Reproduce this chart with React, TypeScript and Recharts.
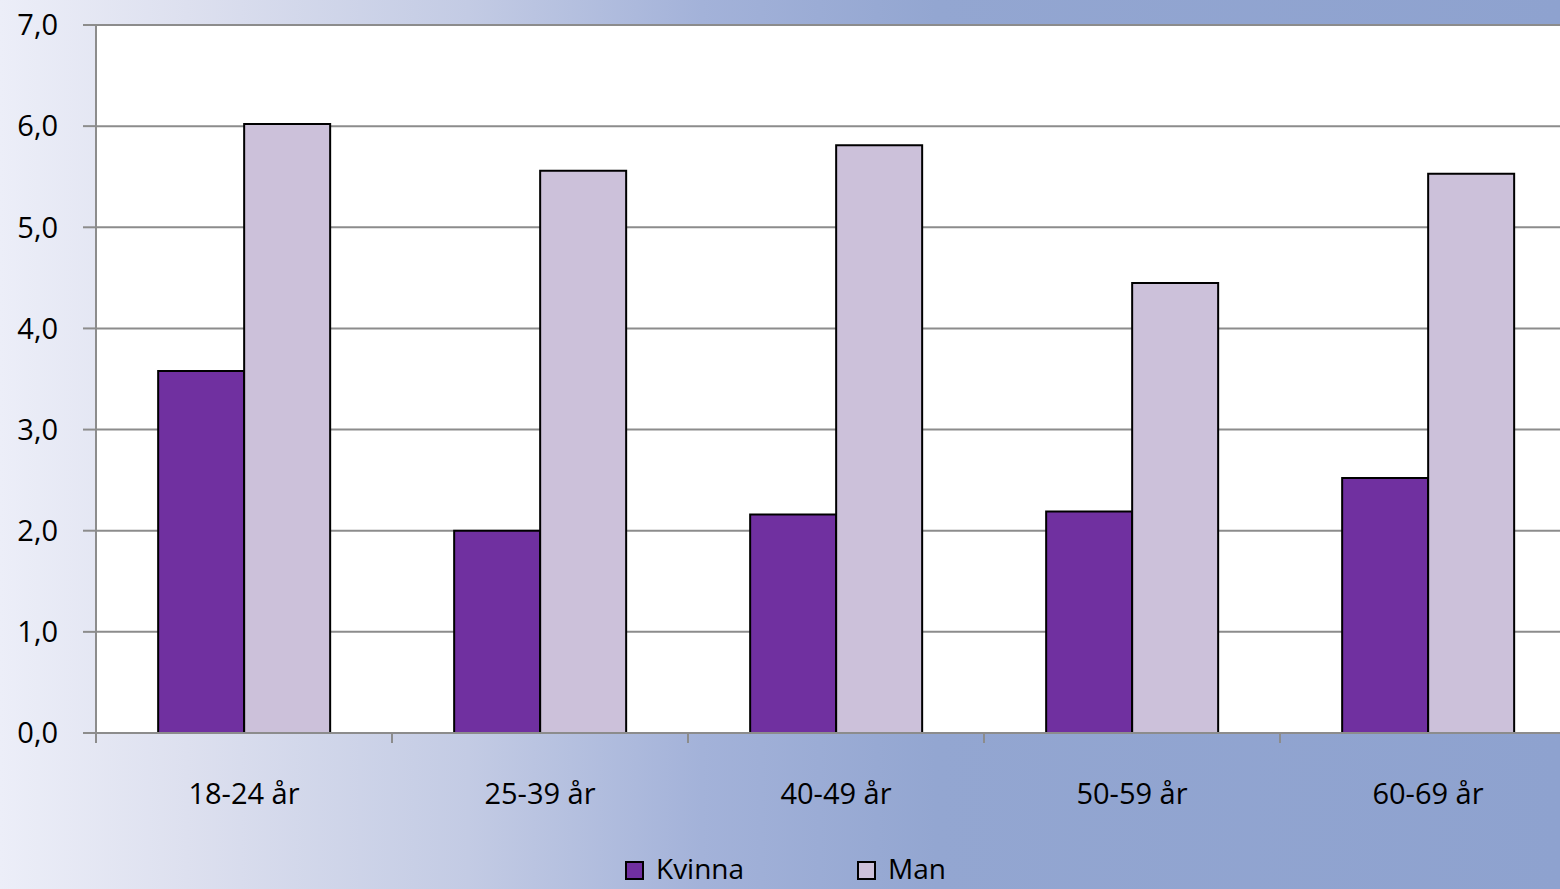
import { BarChart, Bar, XAxis, YAxis, CartesianGrid, Legend } from "recharts";

const ageGroups = ["18-24 år", "25-39 år", "40-49 år", "50-59 år", "60-69 år"];
const kvinna = [3.58, 2.0, 2.16, 2.19, 2.52];
const man = [6.02, 5.56, 5.81, 4.45, 5.53];
const yTicks = [0, 1, 2, 3, 4, 5, 6, 7];

const data = ageGroups.map((group, i) => ({ group, Kvinna: kvinna[i], Man: man[i] }));

const FONT = "'Open Sans', 'Noto Sans', sans-serif";
const AXIS_GREY = "#8c8c8c";

function fmtTick(v: number): string {
  return v.toFixed(1).replace(".", ",");
}

// category label in the middle, tick mark on the left edge of the band
function XTick(props: any) {
  const { x, y, payload } = props;
  const edge = x - (payload?.offset ?? 0);
  return (
    <g>
      <line x1={edge} y1={y} x2={edge} y2={y + 10} stroke={AXIS_GREY} strokeWidth={2} />
      <text x={x} y={y + 71} textAnchor="middle" fontSize={29} fill="#000" fontFamily={FONT}>
        {payload.value}
      </text>
    </g>
  );
}

function LegendContent(props: any) {
  const items = props.payload ?? [];
  return (
    <div
      style={{
        display: "flex",
        justifyContent: "center",
        gap: 113,
        paddingLeft: 11,
        fontFamily: FONT,
        fontSize: 28,
      }}
    >
      {items.map((it: any) => (
        <div key={it.value} style={{ display: "flex", alignItems: "center", gap: 12, height: 30 }}>
          <span
            style={{
              display: "inline-block",
              width: 15,
              height: 15,
              marginTop: 4,
              background: it.color,
              border: "2px solid #000",
            }}
          />
          <span style={{ color: "#000", lineHeight: "30px" }}>{it.value}</span>
        </div>
      ))}
    </div>
  );
}

export default function App() {
  return (
    <div
      style={{
        position: "absolute",
        left: 0,
        top: 0,
        width: 1560,
        height: 889,
        overflow: "hidden",
        fontFamily: FONT,
        background:
          "linear-gradient(90deg, #eceef8 0%, #dde0ef 12%, #c3cbe4 30%, #a3b2d9 45%, #93a6d1 60%, #8ea2cf 100%)",
      }}
    >
      <BarChart
        width={1600}
        height={889}
        data={data}
        margin={{ top: 25, right: 24, bottom: 0, left: 0 }}
        barCategoryGap="21%"
        barGap={0}
      >
        <CartesianGrid vertical={false} stroke={AXIS_GREY} strokeWidth={2} fill="#ffffff" />
        <XAxis
          dataKey="group"
          height={156}
          tickSize={0}
          tickMargin={0}
          tick={<XTick />}
          axisLine={{ stroke: AXIS_GREY, strokeWidth: 2 }}
          tickLine={false}
          interval={0}
        />
        <YAxis
          domain={[0, 7]}
          ticks={yTicks}
          width={96}
          tickSize={13}
          tickMargin={25}
          tickFormatter={fmtTick}
          tick={{ fontSize: 29, fill: "#000", fontFamily: FONT }}
          axisLine={{ stroke: AXIS_GREY, strokeWidth: 2 }}
          tickLine={{ stroke: AXIS_GREY, strokeWidth: 2 }}
        />
        <Legend
          verticalAlign="middle"
          align="center"
          content={<LegendContent />}
          wrapperStyle={{ top: 853, left: 0, width: 1560 }}
        />
        <Bar dataKey="Kvinna" fill="#7030a0" stroke="#000" strokeWidth={2} isAnimationActive={false} />
        <Bar dataKey="Man" fill="#ccc1da" stroke="#000" strokeWidth={2} isAnimationActive={false} />
      </BarChart>
    </div>
  );
}
